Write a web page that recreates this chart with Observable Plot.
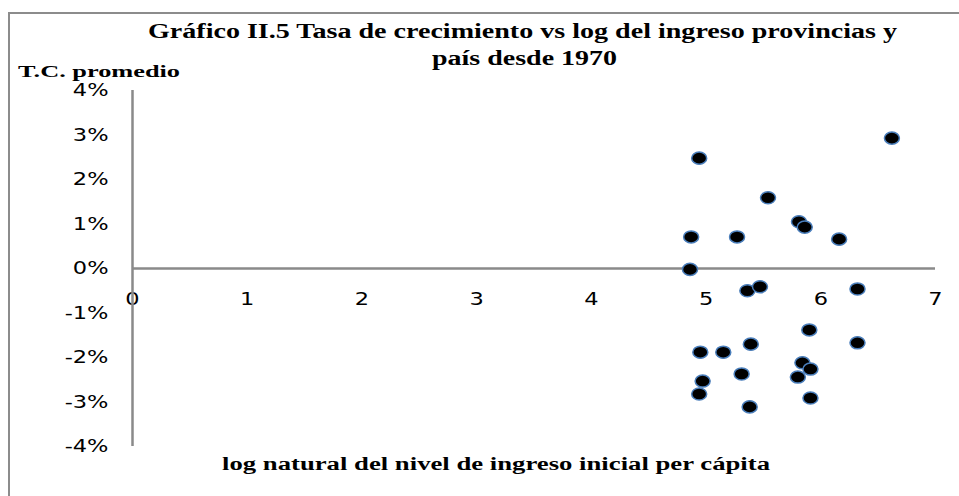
<!DOCTYPE html>
<html>
<head>
<meta charset="utf-8">
<script src="https://cdn.jsdelivr.net/npm/d3@7"></script>
<script src="https://cdn.jsdelivr.net/npm/@observablehq/plot@0.6"></script>
<style>
  html, body { margin: 0; padding: 0; background: #fff; }
  #chart { width: 959px; height: 496px; overflow: hidden; }
</style>
</head>
<body>
<div id="chart"></div>
<script>
// ---- Data ----
const titleLine1 = "Gráfico II.5 Tasa de crecimiento vs log del ingreso provincias y";
const titleLine2 = "país desde 1970";
const yTitle = "T.C. promedio";
const xTitle = "log natural del nivel de ingreso inicial per cápita";

const xTicks = [0, 1, 2, 3, 4, 5, 6, 7];
const yTicks = [4, 3, 2, 1, 0, -1, -2, -3, -4];

// log natural del ingreso inicial per cápita
const logIngreso = [6.62, 4.94, 5.54, 5.81, 5.86, 6.16, 4.87, 5.27, 4.86, 5.36, 5.47, 6.32, 5.90,
                    6.32, 4.95, 5.15, 5.39, 5.31, 5.84, 5.91, 5.80, 4.97, 4.94, 5.91, 5.38];
// tasa de crecimiento promedio (%)
const tasaCrec =   [2.93, 2.48, 1.59, 1.05, 0.93, 0.66, 0.71, 0.71, -0.02, -0.50, -0.41, -0.46, -1.38,
                    -1.67, -1.88, -1.88, -1.70, -2.37, -2.12, -2.26, -2.44, -2.53, -2.82, -2.91, -3.11];

const points = logIngreso.map((x, i) => ({x, y: tasaCrec[i]}));

// slightly wide elliptical marker, like the original
const ellipse = {
  draw(ctx, size) {
    const r = Math.sqrt(size / Math.PI);
    const rx = r * 1.12, ry = r * 0.9, k = 0.5523;
    ctx.moveTo(rx, 0);
    ctx.bezierCurveTo(rx, ry * k, rx * k, ry, 0, ry);
    ctx.bezierCurveTo(-rx * k, ry, -rx, ry * k, -rx, 0);
    ctx.bezierCurveTo(-rx, -ry * k, -rx * k, -ry, 0, -ry);
    ctx.bezierCurveTo(rx * k, -ry, rx, -ry * k, rx, 0);
    ctx.closePath();
  }
};

const axisColor = "#8a8a8a";
const tickFont = "DejaVu Sans, Verdana, sans-serif";
const serifFont = "'Liberation Serif', 'Times New Roman', serif";

const svg = Plot.plot({
  width: 959,
  height: 496,
  marginLeft: 132,
  marginRight: 24,
  marginTop: 90,
  marginBottom: 50,
  style: { background: "#fff", overflow: "visible" },
  x: { domain: [0, 7], axis: null },
  y: { domain: [-4, 4], axis: null },
  marks: [
    Plot.text(xTicks, { x: d => d, y: 0, dy: 31, text: d => String(d), fontSize: 18, fontFamily: tickFont, fill: "#000", className: "tick-lab" }),
    Plot.ruleY([0], { x1: 0, x2: 7, stroke: axisColor, strokeWidth: 2.5 }),
    Plot.ruleX([0], { y1: -4, y2: 4, stroke: axisColor, strokeWidth: 2.5 }),
    Plot.text(yTicks, { x: 0, y: d => d, dx: -24, textAnchor: "end", text: d => d + "%", fontSize: 18, fontFamily: tickFont, fill: "#000", className: "tick-lab" }),
    Plot.dot(points, { x: "x", y: "y", r: 6.7, symbol: ellipse, fill: "#000", stroke: "#4a7ebb", strokeWidth: 1.5 })
  ]
});

document.getElementById("chart").appendChild(svg);
const root = d3.select(svg);

// outer chart-area frame (gray), running off the right and bottom edges
root.insert("path", ":first-child")
  .attr("d", "M9,496V13H959")
  .attr("fill", "none")
  .attr("stroke", "#8c8c8c")
  .attr("stroke-width", 2);

// the original's tick labels are horizontally stretched
root.selectAll(".tick-lab text").each(function () {
  const w = this.getComputedTextLength();
  this.setAttribute("textLength", (w * 1.25).toFixed(1));
  this.setAttribute("lengthAdjust", "spacingAndGlyphs");
});

function stretchedText(str, x1, x2, cy, size) {
  root.append("text")
    .attr("x", x1)
    .attr("y", cy)
    .attr("dy", "0.35em")
    .attr("text-anchor", "start")
    .style("font-family", serifFont)
    .style("font-weight", "bold")
    .style("font-size", size + "px")
    .attr("fill", "#000")
    .attr("textLength", x2 - x1)
    .attr("lengthAdjust", "spacingAndGlyphs")
    .text(str);
}
stretchedText(titleLine1, 148, 897, 31, 20);
stretchedText(titleLine2, 432, 617, 58, 20);
stretchedText(yTitle, 18, 180, 71, 17);
stretchedText(xTitle, 222, 770, 464, 18);
</script>
</body>
</html>
